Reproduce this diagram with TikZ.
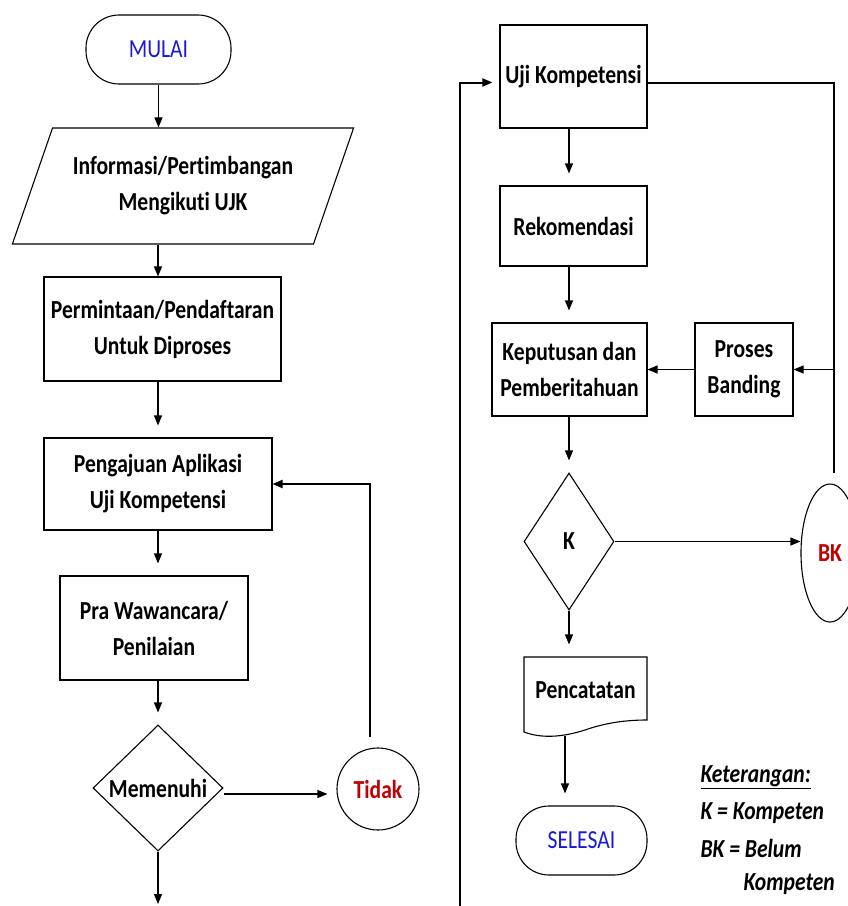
\documentclass[tikz,border=0pt]{standalone}
\usepackage{fontspec}
\setmainfont{Carlito}[FakeStretch=0.83, Ligatures=NoCommon]
\usetikzlibrary{shapes.geometric, arrows.meta}
\definecolor{termblue}{RGB}{25,25,215}
\definecolor{nored}{RGB}{192,0,0}

\begin{document}
\begin{tikzpicture}[
        x=1pt, y=-1pt,
        every node/.style={font=\fontsize{26}{36}\selectfont\bfseries, align=center, line width=1.1pt, inner sep=0pt},
        box/.style={draw, rectangle},
        term/.style={draw, rectangle, rounded corners=33pt, text=termblue, font=\fontsize{26}{36}\selectfont},
        decide/.style={draw, diamond},
        ar/.style={-{Triangle[length=10pt,width=8pt]}, line width=1.1pt},
        gap/.style={shorten >=12pt},
        loopln/.style={line width=2pt},
        legend/.style={anchor=west, font=\fontsize{26}{36}\selectfont\bfseries\itshape},
    ]
    \useasboundingbox (0,0) rectangle (848,906);

    % kolom kiri
    \node[term, minimum width=145pt, minimum height=69pt](mulai) at (158.5,49.5) {MULAI};
    \node[draw, trapezium, trapezium left angle=60, trapezium right angle=120,
          trapezium stretches=true, minimum width=342pt, minimum height=116pt](info) at (183,186)
          {Informasi/Pertimbangan\\Mengikuti UJK};
    \node[box, minimum width=237pt, minimum height=104pt](daftar) at (162.5,329) {Permintaan/Pendaftaran\\Untuk Diproses};
    \node[box, minimum width=228pt, minimum height=92pt](aju) at (158,484) {Pengajuan Aplikasi\\Uji Kompetensi};
    \node[box, minimum width=188pt, minimum height=104pt](pra) at (154,628) {Pra Wawancara/\\Penilaian};
    \node[decide, minimum width=130pt, minimum height=126pt](penuhi) at (158,788) {Memenuhi};
    \node[draw, circle, minimum size=82pt, text=nored](tidak) at (378,789) {Tidak};
    \coordinate (keluar) at (158,904);
    \coordinate (tidakatas) at (370,737);

    % kolom kanan
    \node[box, minimum width=147pt, minimum height=103pt](uji) at (573.5,76.5) {Uji Kompetensi};
    \node[box, minimum width=147pt, minimum height=80pt](rekom) at (573.5,226) {Rekomendasi};
    \node[box, minimum width=155pt, minimum height=93pt](putus) at (569.5,369.5) {Keputusan dan\\Pemberitahuan};
    \node[box, minimum width=98pt, minimum height=93pt](banding) at (744,369.5) {Proses\\Banding};
    \node[decide, minimum width=90pt, minimum height=137pt](k) at (569,541.5) {K};
    \node[draw, ellipse, minimum width=58pt, minimum height=138pt, text=nored](bk) at (830,553) {BK};
    \node[minimum width=123pt, minimum height=66pt](catat) at (585.5,690) {Pencatatan};
    \node[term, minimum width=131pt, minimum height=69pt](selesai) at (581.5,840.5) {SELESAI};
    \coordinate (catatbawah) at (565,736);
    \coordinate (kiribawah) at (460,906);
    \coordinate (bkatas) at (834,473);

    \draw[line width=1.1pt] (524,657) -- (647,657) -- (647,720)
        .. controls (625,720) and (605,723) .. (585,730)
        .. controls (560,738) and (540,738) .. (524,732) -- cycle;

    \node[legend](ket) at (700,777) {\underline{Keterangan:}};
    \node[legend](ketk) at (700,813) {K = Kompeten};
    \node[legend](ketbk) at (700,848) {BK = Belum};
    \node[legend](ketbk2) at (743,884) {Kompeten};

    \draw[ar] (mulai.south) -- (mulai.south |- info.north);
    \draw[ar] (info.south -| aju) -- (aju |- daftar.north);
    \draw[ar, gap] (daftar.south -| aju) -- (aju.north);
    \draw[ar, gap] (aju.south) -- (aju.south |- pra.north);
    \draw[ar, gap] (pra.south -| penuhi) -- (penuhi.north);
    \draw[ar] (penuhi.south) -- (keluar);
    \draw[ar, shorten >=9pt] ([yshift=-6pt]penuhi.east) -- ([yshift=-6pt]penuhi.east -| tidak.west);
    \draw[ar, loopln] (tidakatas) |- (aju.east);

    \draw[ar, loopln, shorten >=7pt] (kiribawah) |- ([yshift=-6pt]uji.west);
    \draw[loopln] ([yshift=-6pt]uji.east) -| (bkatas);
    \draw[ar] (bkatas |- banding.east) -- (banding.east);
    \draw[ar] (banding.west) -- (putus.east);
    \draw[ar, gap] (uji.south -| k) -- (k |- rekom.north);
    \draw[ar, gap] (rekom.south -| k) -- (k |- putus.north);
    \draw[ar, gap] (putus.south -| k) -- (k.north);
    \draw[ar] (k.east) -- (k.east -| bk.west);
    \draw[ar, gap] (k.south) -- (k |- catat.north);
    \draw[ar, gap] (catatbawah) -- (catatbawah |- selesai.north);
\end{tikzpicture}
\end{document}
